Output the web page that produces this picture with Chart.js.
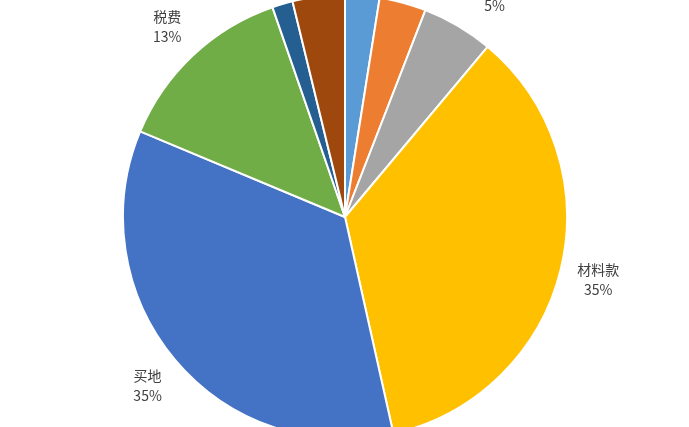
<!DOCTYPE html>
<html lang="zh-CN">
<head>
    <meta charset="UTF-8">
    <title>成本构成</title>
    <script src="https://cdn.jsdelivr.net/npm/chart.js"></script>
    <style>
        html, body {
            margin: 0;
            padding: 0;
            background: #ffffff;
        }
        .chart-container {
            width: 689px;
            height: 427px;
        }
    </style>
</head>
<body>
    <div class="chart-container">
        <canvas id="grafico"></canvas>
    </div>

    <script>
        // dados (percentuais)
        const categorias = ['设计费', '人工费', '前期费用', '材料款', '买地', '税费', '利息', '其他'];
        const valores = [2.5, 3.4, 5.2, 35.4, 34.8, 13.4, 1.5, 3.8];
        const cores = ['#5B9BD5', '#ED7D31', '#A5A5A5', '#FFC000', '#4472C4', '#70AD47', '#255E91', '#9E480E'];

        // rótulos fora da fatia: nome + percentual
        const rotulosFora = {
            id: 'rotulosFora',
            afterDatasetsDraw(chart) {
                const c = chart.ctx;
                const meta = chart.getDatasetMeta(0);
                const total = valores.reduce((a, b) => a + b, 0);
                const lim = (v, k) => Math.max(-1, Math.min(1, v * k));
                c.save();
                c.font = '14px "Noto Sans CJK SC", "Noto Sans", sans-serif';
                c.fillStyle = '#404040';
                c.textAlign = 'center';
                c.textBaseline = 'middle';
                meta.data.forEach((arc, i) => {
                    const ang = (arc.startAngle + arc.endAngle) / 2;
                    const dx = Math.cos(ang), dy = Math.sin(ang);
                    const r = arc.outerRadius + 17;
                    const nome = categorias[i];
                    const pct = Math.round(valores[i] / total * 100) + '%';
                    const w = Math.max(c.measureText(nome).width, c.measureText(pct).width);
                    const h = 32;
                    const cx = arc.x + r * dx + (w / 2) * lim(dx, 2);
                    const cy = arc.y + r * dy + (h / 2) * lim(dy, 1.5);
                    c.fillText(nome, cx, cy - 10);
                    c.fillText(pct, cx, cy + 10);
                });
                c.restore();
            }
        };

        const ctx = document.getElementById('grafico').getContext('2d');
        new Chart(ctx, {
            type: 'pie',
            data: {
                labels: categorias,
                datasets: [{
                    data: valores,
                    backgroundColor: cores,
                    borderColor: '#ffffff',
                    borderWidth: 2
                }]
            },
            options: {
                responsive: true,
                maintainAspectRatio: false,
                animation: false,
                radius: 222,
                layout: {
                    padding: { top: 7, left: 1 }
                },
                plugins: {
                    legend: { display: false },
                    tooltip: { enabled: false }
                }
            },
            plugins: [rotulosFora]
        });
    </script>
</body>
</html>
